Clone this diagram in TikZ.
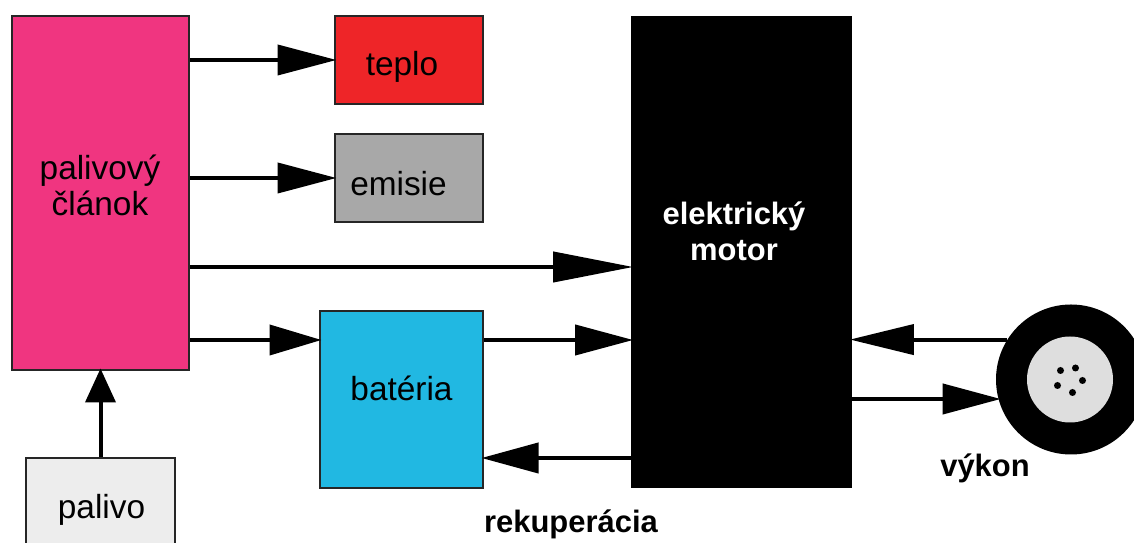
\documentclass[tikz,border=0pt]{standalone}
\usepackage{fontspec}
\usepackage{tikz}
\usetikzlibrary{arrows.meta}
\setmainfont{Liberation Sans}
\definecolor{pc_pink}{RGB}{240,53,128}
\definecolor{heat_red}{RGB}{238,37,40}
\definecolor{bat_blue}{RGB}{33,184,226}
\tikzset{
  box/.style={draw=black!85, line width=0.04cm, inner sep=0pt},
  lbl/.style={font=\fontsize{19}{20.6}\selectfont, align=center, inner sep=0pt},
  note/.style={font=\fontsize{17.6}{20.4}\selectfont\bfseries, align=center, inner sep=0pt},
  flow/.style={line width=0.08cm, shorten >=-0.05cm, -{Triangle[length=#1, width=0.6cm]}}
}

\begin{document}
\begin{tikzpicture}
  \useasboundingbox (0,0) rectangle (22.68,10.86);
  % boxes
  \node[box, fill=pc_pink, minimum width=3.54cm, minimum height=7.08cm] (pc) at (2.01,7.0) {};
  \node[box, fill=heat_red, minimum width=2.96cm, minimum height=1.76cm] (teplo) at (8.18,9.66) {};
  \node[box, fill=black!34, minimum width=2.96cm, minimum height=1.76cm] (emisie) at (8.18,7.30) {};
  \node[box, fill=bat_blue, minimum width=3.26cm, minimum height=3.54cm] (bat) at (8.03,2.87) {};
  \node[box, fill=black!7, minimum width=2.96cm, minimum height=2cm] (palivo) at (2.01,0.70) {};
  \node[fill=black, minimum width=4.42cm, minimum height=9.44cm, inner sep=0pt] (motor) at (14.83,5.82) {};
  % wheel
  \node[circle, fill=black, minimum size=3cm, inner sep=0pt] (wheel) at (21.42,3.27) {};
  \node[circle, fill=black!13, minimum size=1.72cm, inner sep=0pt] (hub) at (21.4,3.27) {};
  \foreach \x/\y in {-0.19/0.18, 0.11/0.23, 0.25/-0.02, 0.05/-0.26, -0.25/-0.12}{
    \fill (hub.center) ++(\x,\y) circle (0.07);
  }
  % texts
  \node[lbl] (pctext) at (2.0,7.15) {palivový\\článok};
  \node[lbl, anchor=base] (teplotext) at (8.04,9.34) {teplo};
  \node[lbl, anchor=base] (emisietext) at (7.97,6.95) {emisie};
  \node[lbl, anchor=base] (battext) at (8.03,2.84) {batéria};
  \node[lbl, anchor=base] (palivotext) at (2.03,0.49) {palivo};
  \node[note, text=white] (motortext) at (14.68,6.23) {elektrický\\motor};
  \node[note, anchor=base] (rekuperacia) at (11.42,0.20) {rekuperácia};
  \node[note, anchor=base] (vykon) at (19.7,1.32) {výkon};
  % arrows
  \draw[flow=1.18cm] (pc.east |- teplo.west) -- (teplo.west);
  \draw[flow=1.18cm] (pc.east |- emisie.west) -- (emisie.west);
  \draw[flow=1.6cm] (pc.east |- 0,5.52) -- (motor.west |- 0,5.52);
  \draw[flow=1.04cm] (pc.east |- 0,4.06) -- (bat.west |- 0,4.06);
  \draw[flow=1.16cm] (bat.east |- 0,4.06) -- (motor.west |- 0,4.06);
  \draw[flow=1.14cm] (motor.west |- 0,1.70) -- (bat.east |- 0,1.70);
  \draw[flow=1.28cm] (wheel.148.7) -- (motor.east |- wheel.148.7);
  \draw[flow=1.16cm] (motor.east |- wheel.195.5) -- (wheel.195.5);
  \draw[flow=0.68cm] (palivo.north) -- (pc.south);
\end{tikzpicture}
\end{document}
